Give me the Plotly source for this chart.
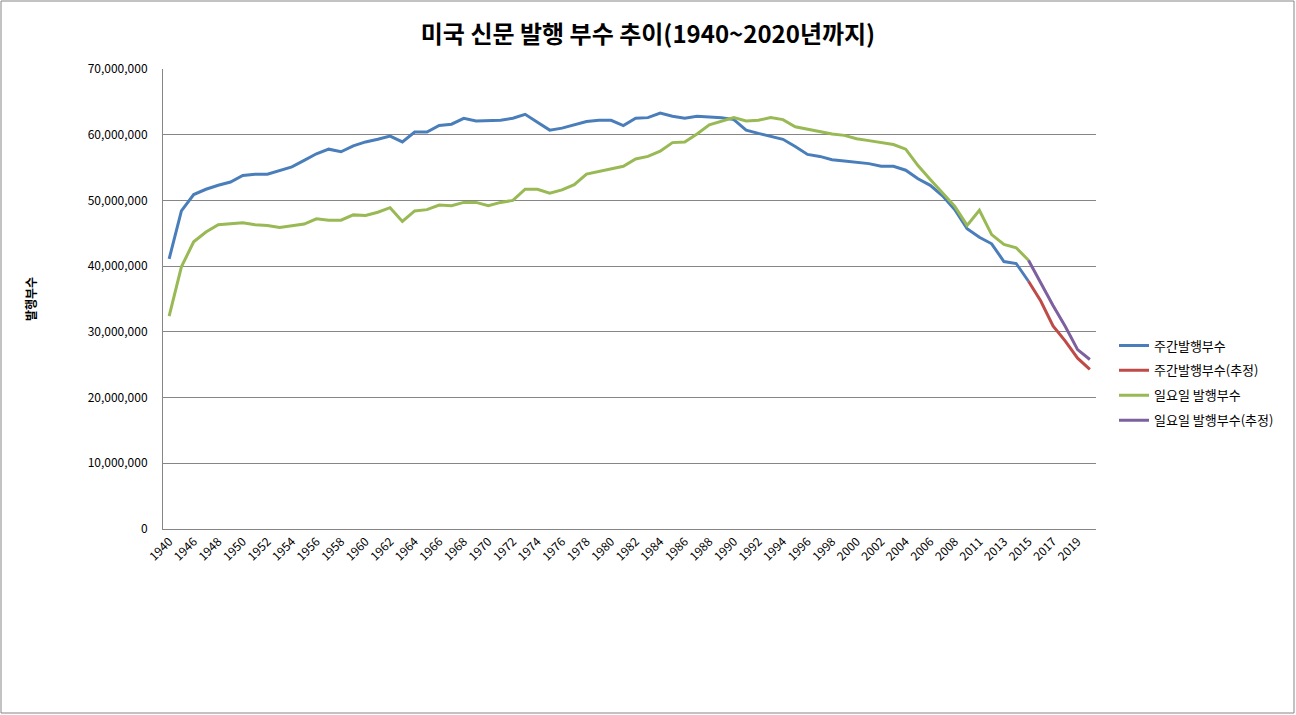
import plotly.graph_objects as go

years = ["1940"] + [str(y) for y in range(1945, 2010)] + [str(y) for y in range(2011, 2021)]

weekday = [41.1, 48.4, 50.9, 51.7, 52.3, 52.8, 53.8, 54.0, 54.0, 54.5, 55.1, 56.1, 57.1, 57.8, 57.4, 58.3,
           58.9, 59.3, 59.8, 58.9, 60.4, 60.4, 61.4, 61.6, 62.5, 62.1, 62.1, 62.2, 62.5, 63.1, 61.9, 60.7,
           61.0, 61.5, 62.0, 62.2, 62.2, 61.4, 62.5, 62.6, 63.3, 62.8, 62.5, 62.8, 62.7, 62.6, 62.3, 60.7,
           60.2, 59.8, 59.3, 58.2, 57.0, 56.7, 56.2, 56.0, 55.8, 55.6, 55.2, 55.2, 54.6, 53.3, 52.3, 50.7,
           48.6, 45.7, 44.4, 43.4, 40.7, 40.4, 37.7]
weekday_est = [37.7, 34.7, 30.9, 28.6, 26.0, 24.3]

sunday = [32.4, 39.9, 43.7, 45.2, 46.3, 46.4, 46.6, 46.3, 46.2, 45.9, 46.2, 46.4, 47.2, 47.0, 47.0, 47.8,
          47.7, 48.2, 48.9, 46.8, 48.4, 48.6, 49.3, 49.2, 49.7, 49.7, 49.2, 49.7, 50.0, 51.7, 51.7, 51.1,
          51.6, 52.4, 54.0, 54.4, 54.7, 55.2, 56.3, 56.7, 57.5, 58.8, 58.9, 60.1, 61.5, 62.0, 62.6, 62.1,
          62.2, 62.6, 62.3, 61.2, 60.8, 60.5, 60.1, 59.9, 59.4, 59.1, 58.8, 58.5, 57.8, 55.3, 53.2, 51.2,
          49.1, 46.2, 48.5, 44.8, 43.3, 42.8, 40.9]
sunday_est = [40.9, 37.4, 34.0, 30.8, 27.3, 25.8]

est_years = years[-6:]
main_years = years[:len(weekday)]

ytick_vals = [i * 10_000_000 for i in range(8)]
ytick_text = ["0" if v == 0 else f"{v:,}" for v in ytick_vals]

M = 1_000_000
fig = go.Figure()
fig.add_trace(go.Scatter(x=main_years, y=[v * M for v in weekday], mode="lines", name="주간발행부수",
                         legendgroup="a", line=dict(color="#4A7EBB", width=3)))
fig.add_trace(go.Scatter(x=est_years, y=[v * M for v in weekday_est], mode="lines", name="주간발행부수(추정)",
                         legendgroup="b", line=dict(color="#BE4B48", width=3)))
fig.add_trace(go.Scatter(x=main_years, y=[v * M for v in sunday], mode="lines", name="일요일 발행부수",
                         legendgroup="c", line=dict(color="#98B954", width=3)))
fig.add_trace(go.Scatter(x=est_years, y=[v * M for v in sunday_est], mode="lines", name="일요일 발행부수(추정)",
                         legendgroup="d", line=dict(color="#7D60A0", width=3)))

L, R, T, B = 163, 200, 69, 186
W, H = 1296, 715
pw, ph = W - L - R, H - T - B

font_family = "Noto Sans CJK KR, Noto Sans, sans-serif"
fig.update_layout(
    width=W, height=H,
    margin=dict(l=L, r=R, t=T, b=B, pad=0),
    paper_bgcolor="white", plot_bgcolor="white",
    font=dict(family=font_family, size=11, color="black"),
    title=dict(text="<b>미국 신문 발행 부수 추이(1940~2020년까지)</b>", x=0.5, xanchor="center",
               y=1 - 35 / H, yanchor="middle", font=dict(size=24, color="black")),
    showlegend=True,
    legend=dict(x=(1114 - L) / pw, xanchor="left", y=(529 - 383) / ph, yanchor="middle",
                font=dict(size=13), tracegroupgap=5, itemwidth=30, bgcolor="rgba(0,0,0,0)"),
    xaxis=dict(type="category", categoryorder="array", categoryarray=years,
               range=[-0.5, len(years) - 0.5],
               tickmode="array", tickvals=years[::2], ticktext=years[::2], tickangle=-45,
               showgrid=False, showline=True, linecolor="#868686", linewidth=1,
               ticks="", tickfont=dict(size=12), zeroline=False),
    yaxis=dict(range=[0, 70_000_000], tickmode="array", tickvals=ytick_vals, ticktext=ytick_text,
               showgrid=True, gridcolor="#868686", gridwidth=1, showline=True, linecolor="#868686",
               ticks="", ticklabelstandoff=12, tickfont=dict(size=12), zeroline=False,
               title=dict(text="<b>발행부수</b>", font=dict(size=12), standoff=48)),
    shapes=[dict(type="rect", xref="paper", yref="paper",
                 x0=(1 - L) / pw, x1=(W - 2 - L) / pw,
                 y0=-(B - 2) / ph, y1=1 + (T - 1) / ph,
                 line=dict(color="#868686", width=1), layer="below")],
)

fig.write_html("out.html")
